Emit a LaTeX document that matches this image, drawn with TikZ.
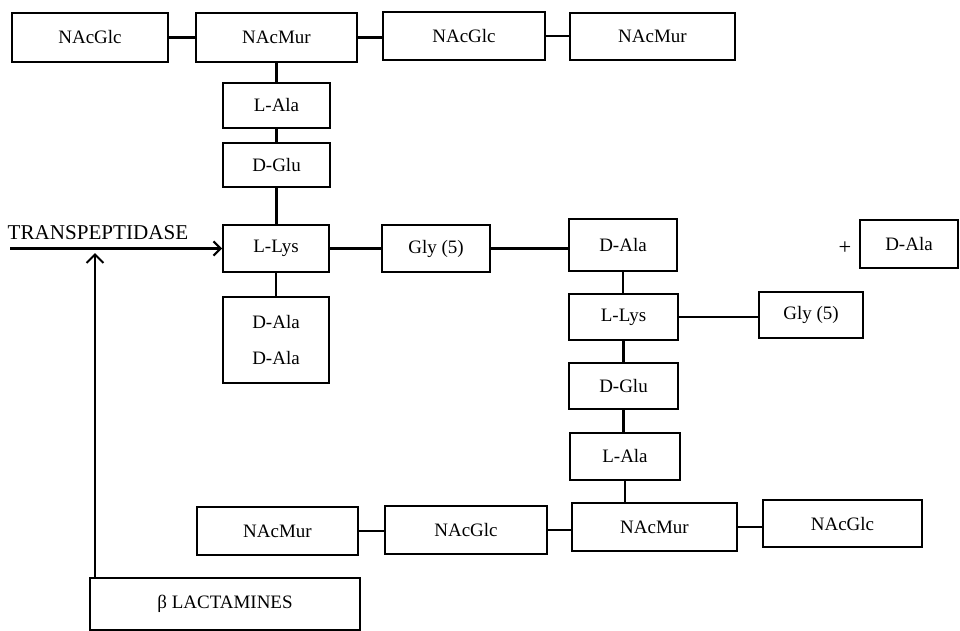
\documentclass[tikz,border=0pt]{standalone}
\usepackage{fontspec}
\setmainfont{Liberation Serif}
\usetikzlibrary{arrows.meta}

\tikzset{
  unita/.style={draw, line width=1.4pt, inner sep=0pt, align=center,
    font=\fontsize{13.5}{16}\selectfont},
  legame/.style={line width=1.5pt},
}

\begin{document}
\begin{tikzpicture}[x=0.025cm, y=-0.025cm]
    \useasboundingbox (0,0) rectangle (960,631);

    % Catena glicanica in alto
    \node[unita, minimum width=3.9cm, minimum height=1.22cm] (g1) at (90,37.5) {NAcGlc};
    \node[unita, minimum width=4.02cm, minimum height=1.22cm] (m1) at (276.5,37.5) {NAcMur};
    \node[unita, minimum width=4.05cm, minimum height=1.2cm] (g2) at (464,36) {NAcGlc};
    \node[unita, minimum width=4.12cm, minimum height=1.18cm] (m2) at (652.5,36.5) {NAcMur};

    % Peptide 1
    \node[unita, minimum width=2.68cm, minimum height=1.12cm] (a1) at (276.5,105.5) {L-Ala};
    \node[unita, minimum width=2.68cm, minimum height=1.12cm] (e1) at (276.5,165) {D-Glu};
    \node[unita, minimum width=2.65cm, minimum height=1.18cm] (k1) at (276,248.5) {L-Lys};
    \node[unita, minimum width=2.65cm, minimum height=2.15cm] (dd) at (276,340) {D-Ala\\[10pt]D-Ala};
    \node[unita, minimum width=2.7cm, minimum height=1.18cm] (gly1) at (436,248.5) {Gly (5)};

    % Peptide 2
    \node[unita, minimum width=2.7cm, minimum height=1.3cm] (d2) at (623,245) {D-Ala};
    \node (piu) at (845,248) {\fontsize{16}{18}\selectfont +};
    \node[unita, minimum width=2.45cm, minimum height=1.2cm] (d3) at (909,244) {D-Ala};
    \node[unita, minimum width=2.72cm, minimum height=1.15cm] (k2) at (623.5,317) {L-Lys};
    \node[unita, minimum width=2.6cm, minimum height=1.15cm] (gly2) at (811,315) {Gly (5)};
    \node[unita, minimum width=2.72cm, minimum height=1.15cm] (e2) at (623.5,386) {D-Glu};
    \node[unita, minimum width=2.75cm, minimum height=1.18cm] (a2) at (625,456.5) {L-Ala};

    % Catena glicanica in basso
    \node[unita, minimum width=4.02cm, minimum height=1.2cm] (m4) at (277.5,531) {NAcMur};
    \node[unita, minimum width=4.05cm, minimum height=1.2cm] (g3) at (466,530) {NAcGlc};
    \node[unita, minimum width=4.12cm, minimum height=1.2cm] (m3) at (654.5,527) {NAcMur};
    \node[unita, minimum width=3.98cm, minimum height=1.18cm] (g4) at (842.5,523.5) {NAcGlc};

    % Legami
    \draw[legame] (g1.east) -- (g1.east -| m1.west);
    \draw[legame] (m1.east) -- (m1.east -| g2.west);
    \draw[legame] (g2.east) -- (g2.east -| m2.west);
    \draw[legame] (m1.south) -- (m1.south |- a1.north);
    \draw[legame] (a1) -- (e1);
    \draw[legame] (e1.south) -- (e1.south |- k1.north);
    \draw[legame] (k1) -- (dd);
    \draw[legame] (k1) -- (gly1);
    \draw[legame] (gly1.east) -- (d2.west |- gly1.east);
    \draw[legame] (d2.south) -- (d2.south |- k2.north);
    \draw[legame] (k2.east) -- (gly2.west |- k2.east);
    \draw[legame] (k2) -- (e2);
    \draw[legame] (e2.south) -- (e2.south |- a2.north);
    \draw[legame] (a2.south) -- (a2.south |- m3.north);
    \draw[legame] (m4.east) -- (m4.east -| g3.west);
    \draw[legame] (g3.east) -- (g3.east -| m3.west);
    \draw[legame] (m3.east) -- (m3.east -| g4.west);

    % Transpeptidasi e beta-lattamine
    \coordinate (tp) at (10,248.5);
    \node[anchor=south west, inner sep=1pt, font=\fontsize{15}{17}\selectfont] (tptext) at (6,241) {TRANSPEPTIDASE};
    \draw[legame, -{Straight Barb[length=5pt]}] (tp) -- (k1.west);
    \node[unita, minimum width=6.75cm, minimum height=1.32cm] (bl) at (225,604) {β LACTAMINES};
    \coordinate (bx) at (95,253);
    \draw[legame, -{Straight Barb[length=6pt]}] (bx |- bl.north) -- (bx);
\end{tikzpicture}
\end{document}
